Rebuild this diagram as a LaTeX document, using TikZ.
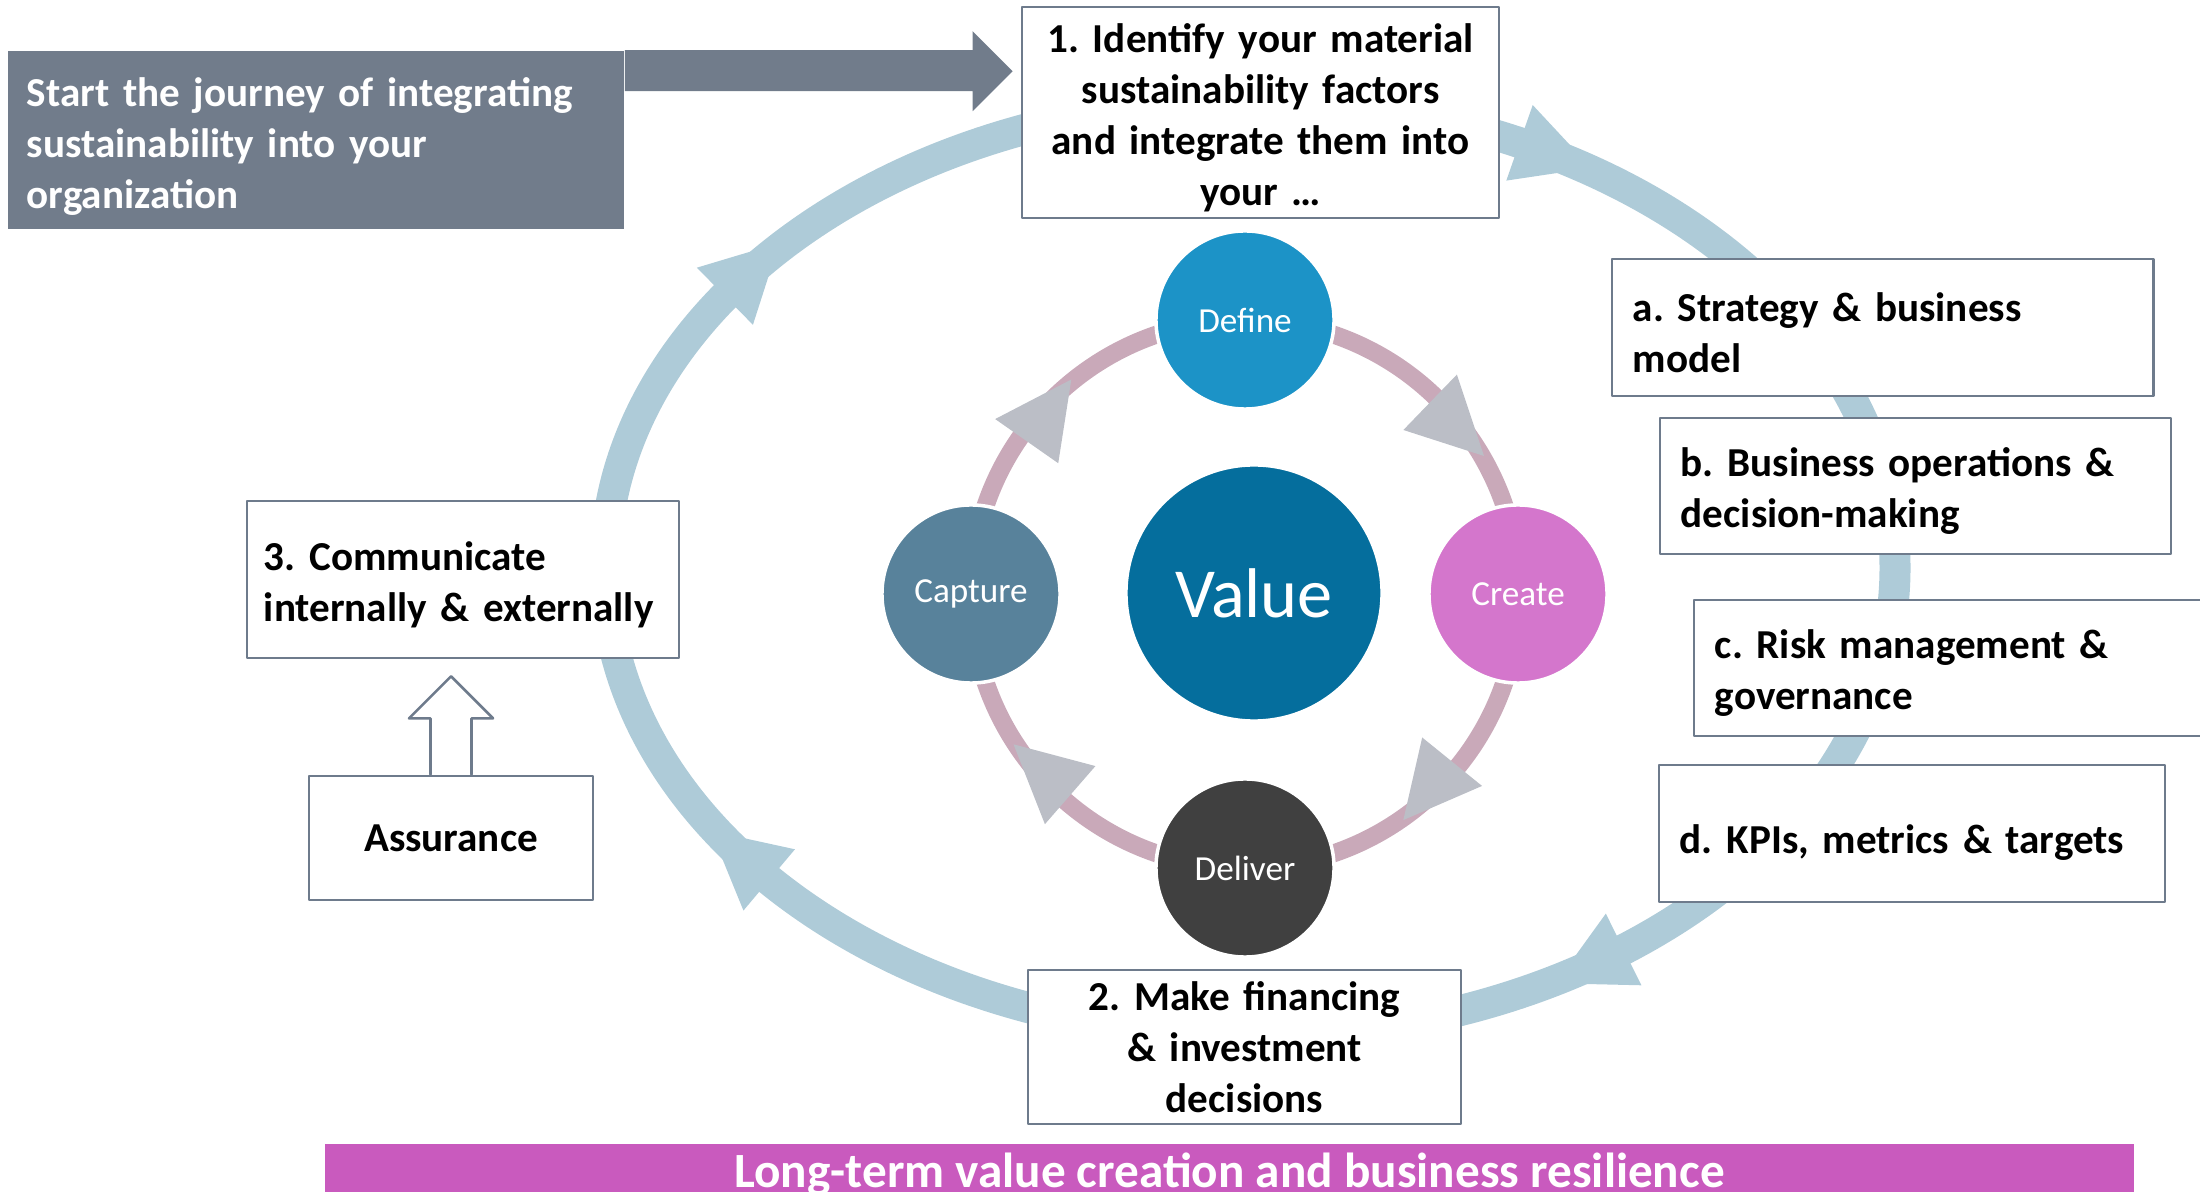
\documentclass[tikz,border=0pt]{standalone}
\usepackage{fontspec}
\setmainfont{Carlito}
\usepackage{tikz}
\usetikzlibrary{calc}
\definecolor{loopblue}{RGB}{174,203,216}
\definecolor{ringpink}{RGB}{201,169,185}
\definecolor{ringtip}{RGB}{187,190,198}
\definecolor{slategray}{RGB}{113,124,139}
\definecolor{boxline}{RGB}{110,123,140}
\definecolor{bannermag}{RGB}{201,90,190}
\definecolor{definecol}{RGB}{28,147,199}
\definecolor{createcol}{RGB}{212,118,204}
\definecolor{delivercol}{RGB}{64,64,64}
\definecolor{capturecol}{RGB}{88,130,155}
\definecolor{valuecol}{RGB}{5,110,157}
\frenchspacing

\begin{document}
\begin{tikzpicture}[line cap=round,line join=round,x=0.01cm,y=-0.01cm,
  stepbox/.style={draw=boxline,line width=0.75pt,fill=white,inner xsep=0.21cm,inner ysep=0pt,
    font=\bfseries\fontsize{11.7}{14.5}\selectfont},
  firstline/.style={execute at begin node=\rule{0pt}{#1}},
  firstline/.default=11.3pt,
  phase/.style={circle,draw=white,line width=1pt,text=white,minimum size=1.78cm,inner sep=0pt,
    font=\fontsize{10}{12}\selectfont}]
\useasboundingbox (0,0) rectangle (2200,1192);
\clip (0,0) rectangle (2200,1192);
\draw [loopblue,line width=0.31cm] (1250,568) ellipse [x radius=645,y radius=468];
\foreach \t in {-144.5,-65.3,54.6,138.2} {
\coordinate (p) at ($(1250,568)+(\t:645 and 468)$);
\coordinate (q) at ($(1250,568)+(\t+2:645 and 468)$);
\fill [loopblue] ($(p)!0.4cm!90:(q)$) -- ($(p)!0.76cm!(q)$) -- ($(p)!0.4cm!-90:(q)$) -- cycle;
}
\draw [ringpink,line width=0.18cm] (1245,594) circle [radius=274];
\foreach \a in {-46,39,131,-145}
\fill [ringtip] ($(1245,594)+(\a:305)$) -- ($(1245,594)+(\a+16:276)$) -- ($(1245,594)+(\a:228)$) -- cycle;
\node [phase,fill=definecol] (define) at (1245,320) {Define};
\node [phase,fill=createcol] (create) at (1518,594) {Create};
\node [phase,fill=delivercol] (deliver) at (1245,868) {Deliver};
\node [phase,fill=capturecol] (capture) at (971,594) {Capture};
\node [phase,fill=valuecol,minimum size=2.56cm,font=\fontsize{20}{24}\selectfont] (value) at (1254,593) {Value};
\node [stepbox,firstline,inner xsep=0.05cm,text width=4.67cm,align=center,minimum height=2.11cm] (identify) at (1260.5,112.5)
  {1. Identify your material\\ sustainability factors\\ and integrate them into\\ your …};
\node [stepbox,firstline,text width=4.99cm,align=left,minimum height=1.37cm] (strategy) at (1882.5,327.5)
  {a. Strategy \& business\\ model};
\node [stepbox,firstline,text width=4.69cm,align=left,minimum height=1.36cm] (operations) at (1915.5,486)
  {b. Business operations \&\\ decision-making};
\node [stepbox,firstline,text width=5.04cm,align=left,minimum height=1.36cm] (risk) at (1967,668)
  {c. Risk management \&\\ governance};
\node [stepbox,firstline,text width=4.64cm,align=left,minimum height=1.37cm,text depth=0pt] (kpis) at (1912,833.5)
  {d. KPIs, metrics \& targets};
\node [stepbox,inner xsep=0.05cm,text width=4.23cm,align=center,minimum height=1.54cm] (financing) at (1244.5,1047)
  {2. Make financing\\ \& investment\\ decisions};
\node [stepbox,firstline,inner xsep=0.17cm,text width=3.98cm,align=left,minimum height=1.57cm] (communicate) at (463,579.5)
  {3. Communicate\\ internally \& externally};
\node [stepbox,minimum width=2.84cm,minimum height=1.24cm] (assure) at (451,838) {Assurance};
\coordinate (atip) at ($(assure.north |- communicate.south)+(0,17)$);
\draw [boxline,line width=0.75pt,fill=white] ($(assure.north)+(-20.5,0)$) -- ($(atip)+(-20.5,42)$) -- ($(atip)+(-42,42)$) -- (atip)
  -- ($(atip)+(42,42)$) -- ($(atip)+(20.5,42)$) -- ($(assure.north)+(20.5,0)$);
\node [fill=slategray,text=white,inner xsep=0.19cm,inner ysep=0pt,text width=5.78cm,align=left,minimum height=1.78cm,
  font=\bfseries\fontsize{11.7}{14.5}\selectfont,firstline=12pt] (startbox) at (316,140)
  {Start the journey of integrating\\ sustainability into your\\ organization};
\coordinate (jtip) at ($(startbox.north -| identify.west)+(-8,21)$);
\fill [slategray] (startbox.north east) -- ($(jtip)+(-40,-21)$) -- ($(jtip)+(-40,-40)$) -- (jtip) -- ($(jtip)+(-40,40)$)
  -- ($(jtip)+(-40,20)$) -- ($(startbox.north east)+(0,41)$) -- cycle;
\node [fill=bannermag,text=white,minimum width=18.07cm,minimum height=0.6cm,inner sep=0pt,
  font=\bfseries\fontsize{14}{17}\selectfont] (resilience) at (1229.5,1174)
  {Long-term value creation and business resilience};
\fill [bannermag] (resilience.south west) rectangle ($(resilience.south east)+(0,40)$);
\end{tikzpicture}
\end{document}
